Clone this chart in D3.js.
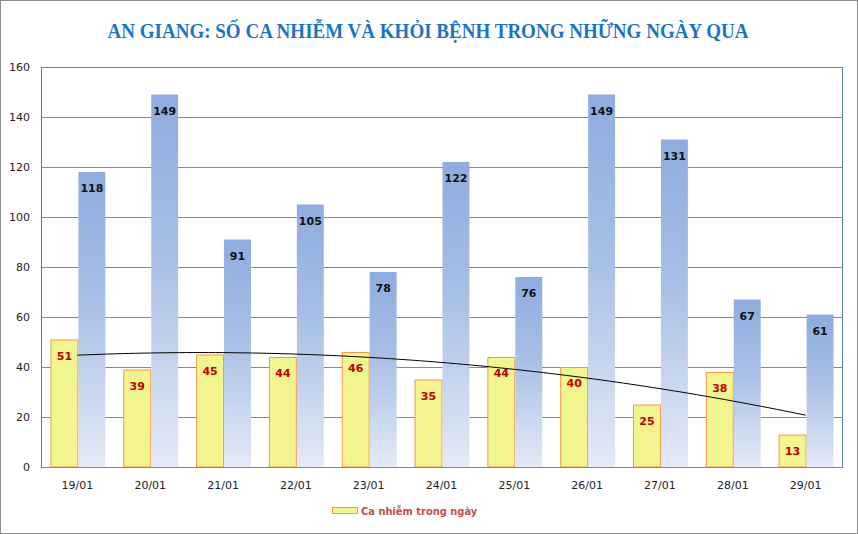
<!DOCTYPE html>
<html><head><meta charset="utf-8">
<script src="https://cdn.jsdelivr.net/npm/d3@7"></script>
<style>html,body{margin:0;padding:0;background:#fff}svg{display:block}</style>
</head><body><svg id="c" width="858" height="534"></svg>
<script>
const categories = ["19/01","20/01","21/01","22/01","23/01","24/01","25/01","26/01","27/01","28/01","29/01"];
const newCases = [51,39,45,44,46,35,44,40,25,38,13];
const recovered = [118,149,91,105,78,122,76,149,131,67,61];
const yTicks = [0,20,40,60,80,100,120,140,160];
const titleText = "AN GIANG: SỐ CA NHIỄM VÀ KHỎI BỆNH TRONG NHỮNG NGÀY QUA";
const legendText = "Ca nhiễm trong ngày";

const svg = d3.select("#c");
const W = 858, H = 534;
const m = {l:41, r:842, t:67, b:467};

svg.append("rect").attr("x",0.5).attr("y",0.5).attr("width",W-1).attr("height",H-1)
  .attr("fill","#fff").attr("stroke","#8c8c8c").attr("stroke-width",1);

const defs = svg.append("defs");
const g1 = defs.append("linearGradient").attr("id","blueGrad").attr("x1",0).attr("y1",0).attr("x2",0).attr("y2",1);
g1.append("stop").attr("offset","0%").attr("stop-color","#8eacdf");
g1.append("stop").attr("offset","45%").attr("stop-color","#a9c0e6");
g1.append("stop").attr("offset","100%").attr("stop-color","#e4eaf6");

const x = d3.scaleBand().domain(categories).range([m.l, m.r]).paddingInner(0).paddingOuter(0);
const y = d3.scaleLinear().domain([0,160]).range([m.b, m.t]);
const bw = x.bandwidth()*0.37;
const gap = x.bandwidth()*0.13;

// gridlines
svg.append("g").selectAll("line").data(yTicks.slice(1)).join("line")
  .attr("x1",m.l).attr("x2",m.r).attr("y1",d=>Math.round(y(d))+0.5).attr("y2",d=>Math.round(y(d))+0.5)
  .attr("stroke","#888").attr("stroke-width",1);

// y axis labels
const yAxis = d3.axisLeft(y).tickValues(yTicks).tickSize(0).tickPadding(11);
const ya = svg.append("g").attr("transform",`translate(${m.l},0)`).call(yAxis);
ya.select(".domain").remove();
ya.selectAll("text").attr("font-family","DejaVu Sans").attr("font-size",11).attr("fill","#222");

// x axis labels
const xAxis = d3.axisBottom(x).tickSize(0).tickPadding(14);
const xa = svg.append("g").attr("transform",`translate(0,${m.b})`).call(xAxis);
xa.select(".domain").remove();
xa.selectAll("text").attr("font-family","DejaVu Sans").attr("font-size",11).attr("fill","#222");

// yellow bars
svg.append("g").selectAll("rect").data(newCases).join("rect")
  .attr("x",(d,i)=>x(categories[i])+gap+0.5)
  .attr("y",d=>y(d)+0.5)
  .attr("width",bw)
  .attr("height",d=>y(0)-y(d)-0.5)
  .attr("fill","#f2f58f").attr("stroke","#f79646").attr("stroke-width",1);

// blue bars
svg.append("g").selectAll("rect").data(recovered).join("rect")
  .attr("x",(d,i)=>x(categories[i])+gap+bw+1)
  .attr("y",d=>y(d))
  .attr("width",bw)
  .attr("height",d=>y(0)-y(d))
  .attr("fill","url(#blueGrad)");

// plot border
svg.append("rect").attr("x",m.l+0.5).attr("y",m.t+0.5).attr("width",m.r-m.l).attr("height",m.b-m.t)
  .attr("fill","none").attr("stroke","#5b82b8").attr("stroke-width",1);
svg.append("line").attr("x1",m.l).attr("x2",m.r).attr("y1",m.b+0.5).attr("y2",m.b+0.5).attr("stroke","#888");

// polynomial (order 2) trendline computed from newCases by least squares
const n = newCases.length;
const xs = newCases.map((d,i)=>i+1);
function fitQuad(xv, yv){
  let S=[0,0,0,0,0], T=[0,0,0];
  xv.forEach((xx,i)=>{ for(let k=0;k<5;k++) S[k]+=Math.pow(xx,k); for(let k=0;k<3;k++) T[k]+=yv[i]*Math.pow(xx,k); });
  const A=[[S[0],S[1],S[2],T[0]],[S[1],S[2],S[3],T[1]],[S[2],S[3],S[4],T[2]]];
  for(let i=0;i<3;i++){ for(let j=i+1;j<3;j++){ const f=A[j][i]/A[i][i]; for(let k=i;k<4;k++) A[j][k]-=f*A[i][k]; } }
  const c=[0,0,0];
  for(let i=2;i>=0;i--){ let s=A[i][3]; for(let k=i+1;k<3;k++) s-=A[i][k]*c[k]; c[i]=s/A[i][i]; }
  return c;
}
const coef = fitQuad(xs, newCases);
const steps = d3.range(0, 101).map(k=>1 + (n-1)*k/100);
const xc = i => x(categories[0]) + x.bandwidth()/2 + (i-1)*x.bandwidth();
svg.append("path").datum(steps)
  .attr("d", d3.line().x(t=>xc(t)).y(t=>y(coef[0]+coef[1]*t+coef[2]*t*t)))
  .attr("fill","none").attr("stroke","#000").attr("stroke-width",1);

// labels
svg.append("g").selectAll("text").data(newCases).join("text")
  .attr("x",(d,i)=>x(categories[i])+gap+bw/2+0.5)
  .attr("y",d=>y(d)+20)
  .attr("text-anchor","middle").attr("font-family","DejaVu Sans").attr("font-weight","bold")
  .attr("font-size",11).attr("fill","#c00000").text(d=>d);
svg.append("g").selectAll("text").data(recovered).join("text")
  .attr("x",(d,i)=>x(categories[i])+gap+bw*1.5+1)
  .attr("y",d=>y(d)+20)
  .attr("text-anchor","middle").attr("font-family","DejaVu Sans").attr("font-weight","bold")
  .attr("font-size",11).attr("fill","#111").text(d=>d);

// title
svg.append("text").attr("x",428).attr("y",38).attr("text-anchor","middle")
  .attr("font-family","Liberation Serif").attr("font-weight","bold").attr("font-size",22)
  .attr("fill","#1a74c4").attr("textLength",641).attr("lengthAdjust","spacingAndGlyphs").text(titleText);

// legend
svg.append("rect").attr("x",332.5).attr("y",507.5).attr("width",25).attr("height",6)
  .attr("fill","#f2f58f").attr("stroke","#f79646");
svg.append("text").attr("x",361).attr("y",515).attr("font-family","DejaVu Sans Condensed").attr("font-weight","bold")
  .attr("font-size",11).attr("fill","#c0504d").text(legendText);
</script></body></html>
